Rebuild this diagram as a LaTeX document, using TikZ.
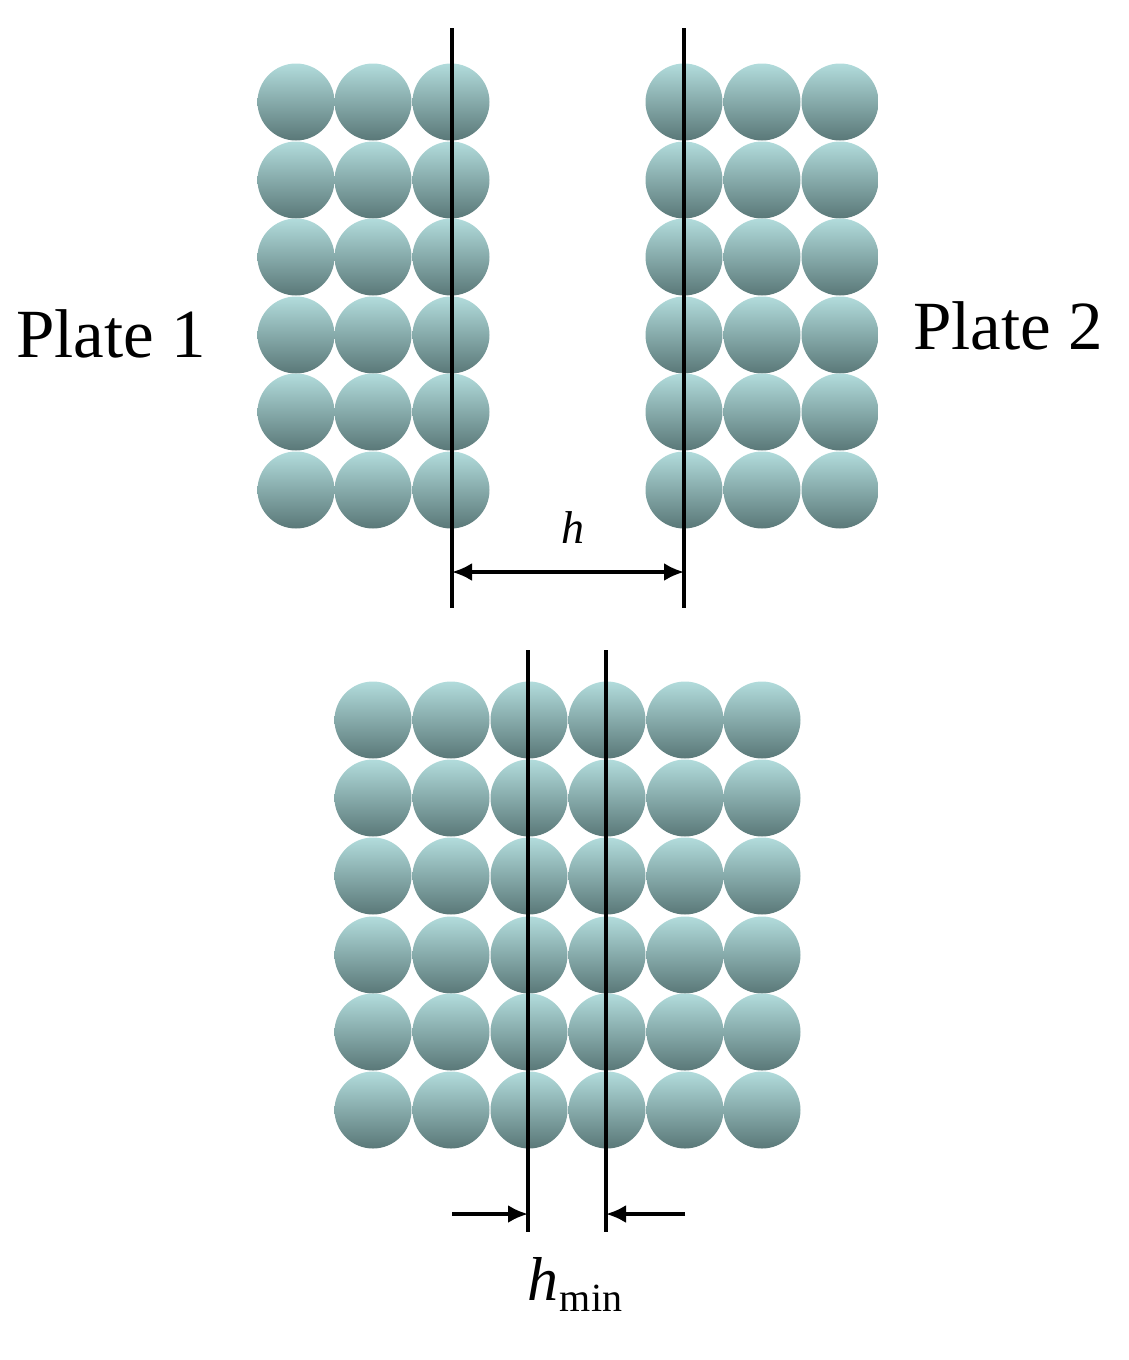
\documentclass[tikz,border=0pt]{standalone}
\usepackage{fontspec}
\setmainfont{Liberation Serif}
\usetikzlibrary{arrows.meta}
\definecolor{ctop}{HTML}{B2DCDC}
\definecolor{cbot}{HTML}{5A7878}
\begin{document}
\begin{tikzpicture}[x=1pt,y=-1pt,
  ball/.style={circle,minimum size=77pt,inner sep=0pt,top color=ctop,bottom color=cbot,draw=none},
  wall/.style={line width=3.6pt,black},
  dim/.style={line width=3.6pt,-{Latex[length=20pt,width=18pt]}}]
\useasboundingbox (0,0) rectangle (1128,1360);
\foreach \x in {296,373,451,684,762,840}{
  \foreach \y in {102,180,257,335,412,490}{
    \node[ball] at (\x,\y) {};}}
\foreach \x in {373,451,529,607,685,762}{
  \foreach \y in {720,798,876,955,1032,1110}{
    \node[ball] at (\x,\y) {};}}
\coordinate (a1) at (452,28); \coordinate (a2) at (452,608);
\coordinate (b1) at (684,28); \coordinate (b2) at (684,608);
\draw[wall] (a1)--(a2); \draw[wall] (b1)--(b2);
\coordinate (ha) at (452,572); \coordinate (hb) at (684,572);
\draw[dim,{Latex[length=20pt,width=18pt]}-{Latex[length=20pt,width=18pt]}] (ha)--(hb);
\node[font=\fontsize{46}{52}\selectfont\itshape] (h) at (573,528) {h};
\coordinate (c1) at (528,650); \coordinate (c2) at (528,1232);
\coordinate (d1) at (606,650); \coordinate (d2) at (606,1232);
\draw[wall] (c1)--(c2); \draw[wall] (d1)--(d2);
\coordinate (e1) at (452,1214); \coordinate (e2) at (528,1214);
\coordinate (f1) at (685,1214); \coordinate (f2) at (606,1214);
\draw[dim] (e1)--(e2); \draw[dim] (f1)--(f2);
\node[font=\fontsize{62}{68}\selectfont] (hm) at (575,1284) {\textit{h}\kern1pt\raisebox{-11pt}{\fontsize{40}{44}\selectfont min}};
\node[font=\fontsize{69}{75}\selectfont] (p1) at (111,334) {Plate 1};
\node[font=\fontsize{69}{75}\selectfont] (p2) at (1008,326) {Plate 2};
\end{tikzpicture}
\end{document}
